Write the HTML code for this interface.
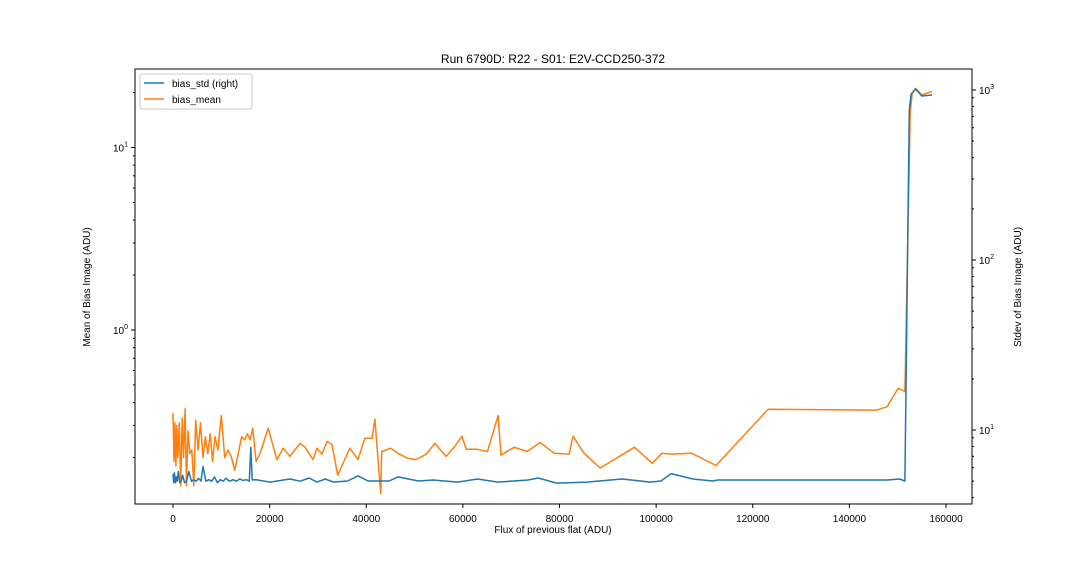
<!DOCTYPE html>
<html><head><meta charset="utf-8">
<style>
body{margin:0;background:#fff;}
svg{display:block;font-family:"Liberation Sans","DejaVu Sans",sans-serif;}
</style></head>
<body>
<svg id="chart" width="1080" height="576" viewBox="0 0 1080 576"></svg>
<script>
const meanX = [0,200,400,600,800,1000,1300,1600,1900,2200,2500,2800,3100,3500,3900,4300,4700,5200,5700,6200,6700,7200,7700,8200,8700,9300,10000,10700,11400,12100,12800,13500,14200,14800,15400,16000,16500,17200,18000,
19700,21500,22800,24200,26300,27300,29000,29800,30800,31900,32900,34100,36600,38300,39700,41200,41800,43000,43200,45100,46600,48600,50300,52400,54200,56500,58200,59800,60700,63000,65100,67300,67900,70600,73300,76000,78900,82000,82800,85100,88400,91300,95500,99200,101200,103100,107400,112400,123200,145700,147800,150100,151500,152600,153000,153700,155000,157100];
const meanY = [0.35,0.19,0.31,0.18,0.30,0.2,0.31,0.14,0.33,0.2,0.37,0.14,0.28,0.21,0.22,0.14,0.32,0.22,0.31,0.2,0.26,0.21,0.27,0.19,0.26,0.22,0.34,0.2,0.22,0.2,0.17,0.21,0.26,0.25,0.27,0.25,0.29,0.19,0.21,
0.29,0.195,0.225,0.203,0.239,0.228,0.195,0.225,0.209,0.245,0.236,0.16,0.225,0.195,0.255,0.255,0.325,0.127,0.216,0.225,0.211,0.198,0.195,0.209,0.239,0.203,0.228,0.262,0.222,0.222,0.216,0.34,0.206,0.228,0.216,0.242,0.211,0.209,0.262,0.211,0.175,0.195,0.228,0.186,0.211,0.209,0.211,0.181,0.368,0.364,0.38,0.48,0.46,15.6,19.8,21.1,19.4,20.3];
const stdX = [0,150,300,500,700,900,1100,1400,1700,2000,2400,2800,3300,3800,4300,4800,5300,5800,6200,6800,7400,8000,8600,9200,9800,10400,11000,11700,12400,13100,13800,14500,15200,15800,16100,16400,17200,20100,24200,26300,28200,29800,31500,33200,36100,38300,40400,44700,46600,50800,53800,58900,63000,67300,73500,75600,79400,85600,92900,98800,101000,103100,107600,111700,112800,148000,150400,151500,152400,152800,153700,155000,157100];
const stdY = [5.5,4.9,5.6,4.9,5.3,5.0,5.7,4.9,5.0,5.4,4.9,5.0,5.7,5.0,5.1,5.0,5.2,5.0,6.1,5.0,5.1,5.0,5.3,4.9,5.1,5.0,5.2,5.0,5.1,5.0,5.15,5.05,5.1,5.0,7.9,5.08,5.1,4.94,5.15,5.0,5.22,4.94,5.15,4.94,5.01,5.37,5.01,5.01,5.3,5.01,5.08,4.94,5.15,4.94,5.08,5.22,4.87,4.94,5.15,4.94,5.01,5.54,5.15,5.01,5.08,5.08,5.15,5.01,763,947,1014,922,935];
const xTicks = [0,20000,40000,60000,80000,100000,120000,140000,160000];

const svg = document.getElementById('chart');
const NS = 'http://www.w3.org/2000/svg';
const L=135,R=972,T=69,B=504;
const xs = v => 173 + v*(946-173)/160000;
const yL = v => 330 - Math.log10(v)*182.5;
const yR = v => 430 - (Math.log10(v)-1)*170;
function mk(tag, attrs, parent){const e=document.createElementNS(NS,tag);for(const k in attrs)e.setAttribute(k,attrs[k]);(parent||svg).appendChild(e);return e;}
function txt(s, attrs){const e=mk('text',attrs);e.textContent=s;return e;}

let d = meanX.map((x,i)=>(i?'L':'M')+xs(x).toFixed(1)+','+yL(meanY[i]).toFixed(1)).join('');
const pm = mk('path',{d:d,fill:'none',stroke:'#ff7f0e','stroke-width':1.5,'stroke-linejoin':'round'});


d = stdX.map((x,i)=>(i?'L':'M')+xs(x).toFixed(1)+','+yR(stdY[i]).toFixed(1)).join('');
const ps = mk('path',{d:d,fill:'none',stroke:'#1f77b4','stroke-width':1.5,'stroke-linejoin':'round'});



const fr = mk('rect',{x:L,y:T,width:R-L,height:B-T,fill:'none',stroke:'#000','stroke-width':1});



xTicks.forEach(v=>{const x=xs(v);mk('line',{x1:x,x2:x,y1:B,y2:B+4,stroke:'#000'});
 const t=txt(String(v),{x:x,y:B+18,'font-size':10,'text-anchor':'middle'});
 
 });

for(let e=-1;e<=1;e++){for(let m=1;m<10;m++){const v=m*Math.pow(10,e);const y=yL(v);if(y<T||y>B)continue;
 mk('line',{x1:L,x2:L-(m==1?4:2),y1:y,y2:y,stroke:'#000'});
 if(m==1){const t=mk('text',{x:L-7,y:y+4,'font-size':10,'text-anchor':'end'});t.innerHTML='10<tspan dy="-5" font-size="7">'+e+'</tspan>';
 
 }}}
for(let e=0;e<=3;e++){for(let m=1;m<10;m++){const v=m*Math.pow(10,e);const y=yR(v);if(y<T||y>B)continue;
 mk('line',{x1:R,x2:R+(m==1?4:2),y1:y,y2:y,stroke:'#000'});
 if(m==1){const t=mk('text',{x:R+7,y:y+4,'font-size':10,'text-anchor':'start'});t.innerHTML='10<tspan dy="-5" font-size="7">'+e+'</tspan>';
 
 }}}

let t=txt('Run 6790D: R22 - S01: E2V-CCD250-372',{x:553,y:63,'font-size':12,'text-anchor':'middle'});


t=txt('Flux of previous flat (ADU)',{x:553,y:533,'font-size':10,'text-anchor':'middle'});


t=txt('Mean of Bias Image (ADU)',{x:0,y:0,'font-size':10,'text-anchor':'middle',transform:'translate(90,287) rotate(-90)'});


t=txt('Stdev of Bias Image (ADU)',{x:0,y:0,'font-size':10,'text-anchor':'middle',transform:'translate(1021,287) rotate(-90)'});



const lg = mk('g',{});


mk('rect',{x:140,y:74,width:112,height:35,rx:2,fill:'#fff',stroke:'#ccc'},lg);
mk('line',{x1:144,x2:164,y1:83,y2:83,stroke:'#1f77b4','stroke-width':1.5},lg);
mk('line',{x1:144,x2:164,y1:99,y2:99,stroke:'#ff7f0e','stroke-width':1.5},lg);
let lt=mk('text',{x:172,y:87,'font-size':10},lg);lt.textContent='bias_std (right)';


lt=mk('text',{x:172,y:103,'font-size':10},lg);lt.textContent='bias_mean';


</script>
</body></html>
